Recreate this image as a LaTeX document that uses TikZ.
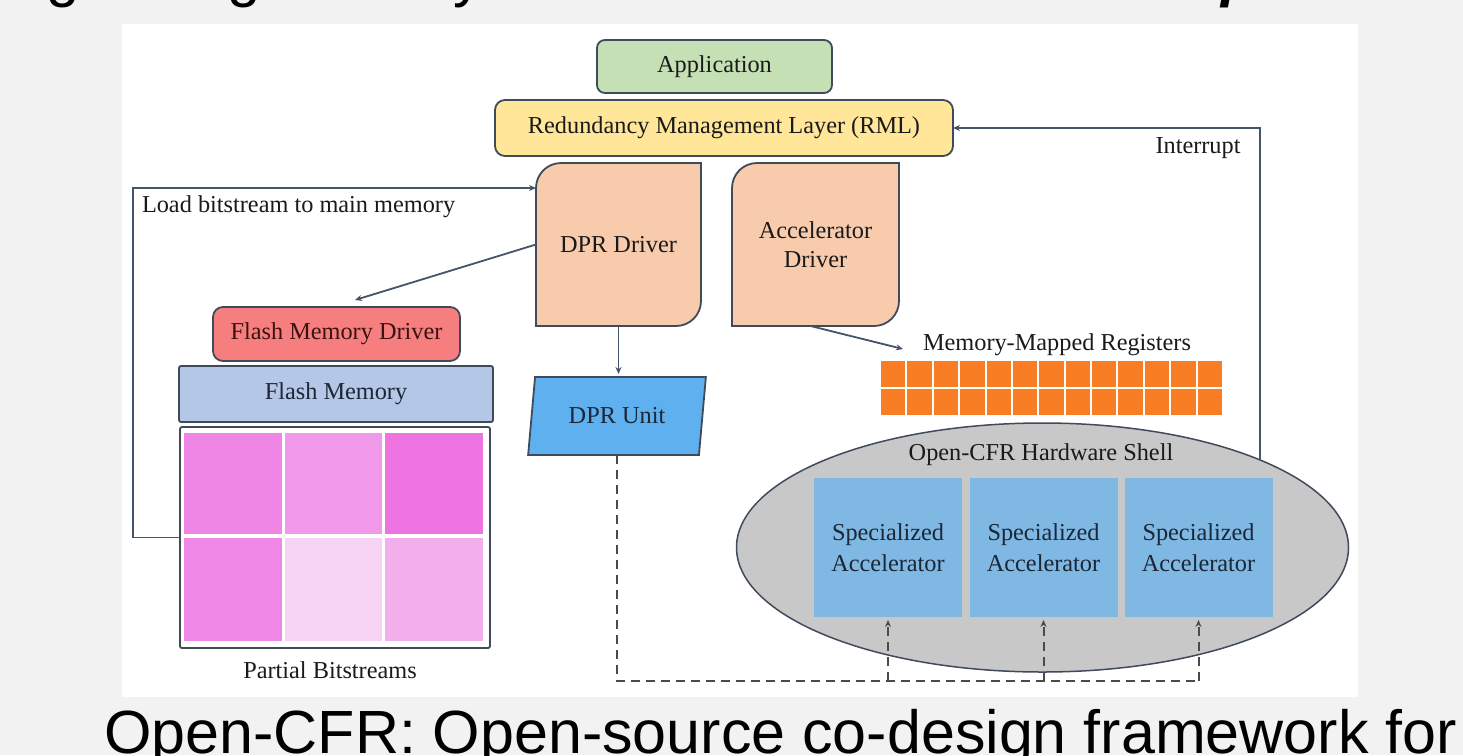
\documentclass[tikz,border=0pt]{standalone}
\usepackage{fontspec}
\setmainfont{Liberation Serif}
\newfontfamily\capfont{Liberation Sans}
\usetikzlibrary{shapes.geometric,arrows.meta,calc}

\pgfdeclarelayer{canvas}
\pgfdeclarelayer{fills}
\pgfsetlayers{canvas,fills,main}

\definecolor{pagegray}{HTML}{F2F2F2}
\definecolor{appgreen}{HTML}{C5E0B4}
\definecolor{rmlyellow}{HTML}{FFE699}
\definecolor{drvpeach}{HTML}{F8CBAD}
\definecolor{fmdred}{HTML}{F77E7E}
\definecolor{flashblue}{HTML}{B4C7E7}
\definecolor{unitblue}{HTML}{5FB0EE}
\definecolor{accblue}{HTML}{7FB8E3}
\definecolor{shellgray}{HTML}{C8C8C8}
\definecolor{regorange}{HTML}{F97D22}
\definecolor{edge}{HTML}{3F4A5A}
\definecolor{wire}{HTML}{44546A}
\definecolor{dashgray}{HTML}{4A4A4A}
\definecolor{ink}{HTML}{1A1A1A}
\definecolor{fmdink}{HTML}{3A1212}
\definecolor{blueink}{HTML}{1B2636}
\definecolor{pkA}{HTML}{EF86E6}
\definecolor{pkB}{HTML}{F199E9}
\definecolor{pkC}{HTML}{EE74E1}
\definecolor{pkD}{HTML}{EF88E6}
\definecolor{pkE}{HTML}{F8D4F4}
\definecolor{pkF}{HTML}{F3AFEC}

\newcommand\dfont{\fontsize{24.3pt}{29pt}\selectfont}

\tikzset{
  box/.style={draw=edge, line width=1.8pt, text=ink, inner sep=0pt, outer sep=0pt, font=\dfont},
  drvtext/.style={inner sep=0pt, outer sep=0pt, text=ink, font=\dfont, align=center},
  drvshape/.style={draw=edge, line width=1.8pt, fill=drvpeach},
  lbl/.style={inner sep=0pt, outer sep=0pt, text=ink, font=\dfont},
  acc/.style={fill=accblue, inner sep=0pt, outer sep=0pt, text=blueink, font=\fontsize{24.3pt}{31pt}\selectfont,
    align=center, minimum width=148pt, minimum height=139pt},
  wirearr/.style={draw=wire, line width=1.8pt, -{Stealth[length=7pt,width=6pt]}},
  dashwire/.style={draw=dashgray, line width=2pt, dash pattern=on 9pt off 6pt},
  dasharr/.style={dashwire, -{Stealth[length=7pt,width=6pt]}, shorten >=3pt},
  titlefrag/.style={inner sep=0pt, anchor=base west, text=black, font=\capfont\fontsize{60pt}{60pt}\selectfont},
}

\begin{document}
\begin{tikzpicture}[x=1pt, y=-1pt]
\useasboundingbox (0,0) rectangle (1463,755);

\begin{pgfonlayer}{canvas}
  \fill[pagegray] (0,0) rectangle (1463,755);
  \fill[white] (122,24) rectangle (1358,697);
\end{pgfonlayer}

% slide title line above (only its descenders fall inside the page)
\node[titlefrag] (tg1) at (46,-4.6) {g};
\node[titlefrag] (tg2) at (227,-4.6) {g};
\node[titlefrag] (ty) at (453,-4.6) {y};
\node[titlefrag, font=\capfont\bfseries\itshape\fontsize{60pt}{60pt}\selectfont] (tp) at (1221,-4.6) {p};

% software stack
\node[box, fill=appgreen, rounded corners=8pt, minimum width=235pt, minimum height=53pt] (app) at (714.5,66.5) {Application};
\node[box, fill=rmlyellow, rounded corners=10pt, minimum width=458pt, minimum height=56pt] (rml) at (724,128) {Redundancy Management Layer (RML)};

\node[drvtext, minimum width=165pt, minimum height=163pt] (dprd) at (618.5,244.5) {DPR Driver};
\node[drvtext, minimum width=167pt, minimum height=163pt] (accd) at (815.5,244.5) {Accelerator\\Driver};

\begin{pgfonlayer}{fills}
  \foreach \d in {dprd,accd}
    \draw[drvshape] (\d.south west) -- ([yshift=-25pt]\d.north west)
      arc[start angle=180, end angle=90, radius=25pt] -- (\d.north east)
      -- ([yshift=25pt]\d.south east) arc[start angle=0, end angle=-90, radius=25pt] -- cycle;
\end{pgfonlayer}

% flash memory side
\node[box, fill=fmdred, text=fmdink, rounded corners=10pt, minimum width=247pt, minimum height=54pt] (fmd) at (336.5,334) {Flash Memory Driver};
\node[box, fill=flashblue, text=blueink, rounded corners=2pt, minimum width=314pt, minimum height=56pt] (flash) at (336,394) {Flash Memory};
\node[box, fill=white, rounded corners=2pt, minimum width=310pt, minimum height=221pt] (pbs) at (335,537.5) {};
\fill[pkA] (184,433) rectangle (282,534);
\fill[pkB] (285,433) rectangle (382,534);
\fill[pkC] (385,433) rectangle (483,534);
\fill[pkD] (184,538) rectangle (282,641);
\fill[pkE] (285,538) rectangle (382,641);
\fill[pkF] (385,538) rectangle (483,641);
\node[lbl] (pbl) at (330,670) {Partial Bitstreams};

% DPR unit
\node[trapezium, trapezium left angle=76, trapezium right angle=104, trapezium stretches=true,
      minimum width=178pt, minimum height=78pt, draw=edge, fill=unitblue, line width=1.8pt,
      inner sep=0pt, outer sep=0pt, text=blueink, font=\dfont] (dunit) at (617,416) {DPR Unit};

% memory-mapped registers
\node[lbl] (mmr) at (1057,345) {Memory-Mapped Registers};
\foreach \i in {0,...,12}
  \foreach \j in {0,1}
    \fill[regorange] (881+\i*26.38, 361+\j*28) rectangle ++(24.38,26);

% hardware shell
\node[ellipse, draw=edge, fill=shellgray, line width=1.5pt, minimum width=612pt, minimum height=249pt,
      inner sep=0pt, outer sep=0pt] (shell) at (1042.5,547.5) {};
\node[lbl] (shl) at (1041,455) {Open-CFR Hardware Shell};
\node[acc] (acc1) at (888,547.5) {Specialized\\Accelerator};
\node[acc] (acc2) at (1043.5,547.5) {Specialized\\Accelerator};
\node[acc] (acc3) at (1198.5,547.5) {Specialized\\Accelerator};

% connectors
\draw[wirearr] (shell.22) |- (rml.east);
\node[lbl] (intl) at (1198,148) {Interrupt};

\draw[wirearr] (pbs.west) -- ++(-47,0) |- ([yshift=-25pt]dprd.north west);
\node[lbl, anchor=west] (loadl) at (142,207) {Load bitstream to main memory};

\draw[wirearr] (dprd.west) -- ([xshift=18.5pt,yshift=7pt]fmd.north);
\draw[wirearr, shorten >=3pt] (dprd.south) -- (dprd.south |- dunit.north);
\draw[wirearr] ([xshift=-5pt]accd.south) -- ([xshift=-20pt,yshift=-4pt]mmr.west);

\draw[dashwire] (dunit.south) |- (acc3.south |- 0,681);
\foreach \a in {acc1,acc2,acc3}
  \draw[dasharr] (\a.south |- 0,681) -- (\a.south);

% caption
\node[anchor=base west, inner sep=0pt, text=black, font=\capfont\fontsize{61pt}{61pt}\selectfont] (cap) at (104,753)
  {Open-CFR: Open-source co-design framework for};
\end{tikzpicture}
\end{document}
